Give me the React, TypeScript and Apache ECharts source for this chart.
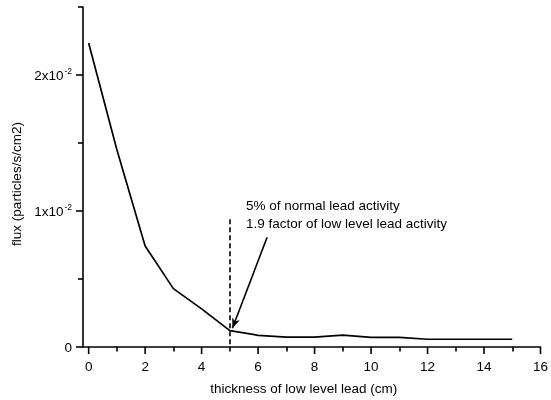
import React, { useEffect, useRef } from "react";
import * as echarts from "echarts";

const thickness = [0, 1, 2, 3, 4, 5, 6, 7, 8, 9, 10, 11, 12, 13, 14, 15];
const flux = [0.02235, 0.0145, 0.00743, 0.00429, 0.0028, 0.0012, 0.00086, 0.00072, 0.00072, 0.00088, 0.00071, 0.00071, 0.00057, 0.00057, 0.00057, 0.00057];
const xMajorTicks = [0, 2, 4, 6, 8, 10, 12, 14, 16];
const xMinorTicks = [1, 3, 5, 7, 9, 11, 13, 15];
const yMajorTicks = [0, 0.01, 0.02];
const yMinorTicks = [0.005, 0.015, 0.025];
const yLabels: Record<string, string> = { "0": "0", "0.01": "{a|1x10}{b|-2}", "0.02": "{a|2x10}{b|-2}" };
const markerX = 5;
const markerTop = 0.0094;
const arrowFrom = [6.32, 0.00807];
const arrowTo = [5.09, 0.00138];
const noteLines = ["5% of normal lead activity", "1.9 factor of low level lead activity"];

const FONT = "'Liberation Sans', Arial, sans-serif";
const FS = 13.5;
const XMIN = -0.2, XMAX = 16, YMIN = 0, YMAX = 0.025;

export default function App() {
  const ref = useRef<HTMLDivElement>(null);
  useEffect(() => {
    if (!ref.current) return;
    const chart = echarts.init(ref.current, undefined, { renderer: "svg" });
    const line = { color: "#000", width: 1.6 };
    const tickSeries = (data: number[][], size: number[], offset: number[]) => ({
      type: "scatter",
      data,
      symbol: "rect",
      symbolSize: size,
      symbolOffset: offset,
      clip: false,
      z: 5,
      itemStyle: { color: "#000", opacity: 1 },
    });
    chart.setOption({
      animation: false,
      grid: { left: 83, right: 5.3, top: 7, bottom: 53 },
      xAxis: {
        type: "value", min: XMIN, max: XMAX,
        name: "thickness of low level lead (cm)",
        nameLocation: "middle",
        nameGap: 34,
        nameTextStyle: { color: "#000", fontSize: FS, fontFamily: FONT, padding: [0, 16, 0, 0] },
        axisLine: { show: true, onZero: false, lineStyle: line },
        axisTick: { show: true, length: 4.5, lineStyle: { color: "#000", width: 1.6 }, customValues: xMinorTicks },
        axisLabel: { show: true, color: "#000", fontSize: FS, margin: 12, fontFamily: FONT, customValues: xMajorTicks },
        splitLine: { show: false },
      },
      yAxis: {
        type: "value", min: YMIN, max: YMAX,
        name: "flux (particles/s/cm2)",
        nameLocation: "middle",
        nameGap: 57,
        nameTextStyle: { color: "#000", fontSize: FS, fontFamily: FONT, padding: [0, 14, 0, 0] },
        axisLine: { show: true, onZero: false, lineStyle: line },
        axisTick: { show: true, length: 5, lineStyle: { color: "#000", width: 1.6 }, customValues: yMinorTicks },
        axisLabel: {
          show: true, color: "#000", fontSize: FS, margin: 11, fontFamily: FONT,
          customValues: yMajorTicks,
          formatter: (v: number) => yLabels[String(Math.round(v * 1000) / 1000)] ?? "",
          rich: {
            a: { fontSize: FS, color: "#000", fontFamily: FONT },
            b: { fontSize: 8.5, color: "#000", fontFamily: FONT, verticalAlign: "top", padding: [0, 0, 8, 1] },
          },
        },
        splitLine: { show: false },
      },
      series: [
        {
          type: "line",
          data: thickness.map((x, i) => [x, flux[i]]),
          showSymbol: false,
          symbol: "none",
          lineStyle: { color: "#000", width: 1.7 },
          markLine: {
            silent: true,
            animation: false,
            label: { show: false },
            data: [
              [
                { coord: [markerX, markerTop], symbol: "none", lineStyle: { type: [5, 3], color: "#000", width: 1.6 } },
                { coord: [markerX, 0], symbol: "none" },
              ],
              [
                { coord: arrowFrom, symbol: "none", lineStyle: { type: "solid", color: "#000", width: 1.6 } },
                { coord: arrowTo, symbol: "arrow", symbolSize: [6, 10] },
              ],
            ],
          },
        },
        tickSeries(xMajorTicks.map((v) => [v, YMIN]), [1.6, 7], [0, 3.5]),
        tickSeries(yMajorTicks.map((v) => [XMIN, v]), [7, 1.6], [-3.5, 0]),
      ],
      graphic: [
        {
          type: "text",
          left: 246,
          top: 196,
          style: { text: noteLines.join("\n"), fill: "#000", font: `${FS}px ${FONT}`, lineHeight: 18 },
        },
      ],
    });
    return () => chart.dispose();
  }, []);
  return <div ref={ref} style={{ position: "fixed", left: 0, top: 0, width: 551, height: 400 }} />;
}
